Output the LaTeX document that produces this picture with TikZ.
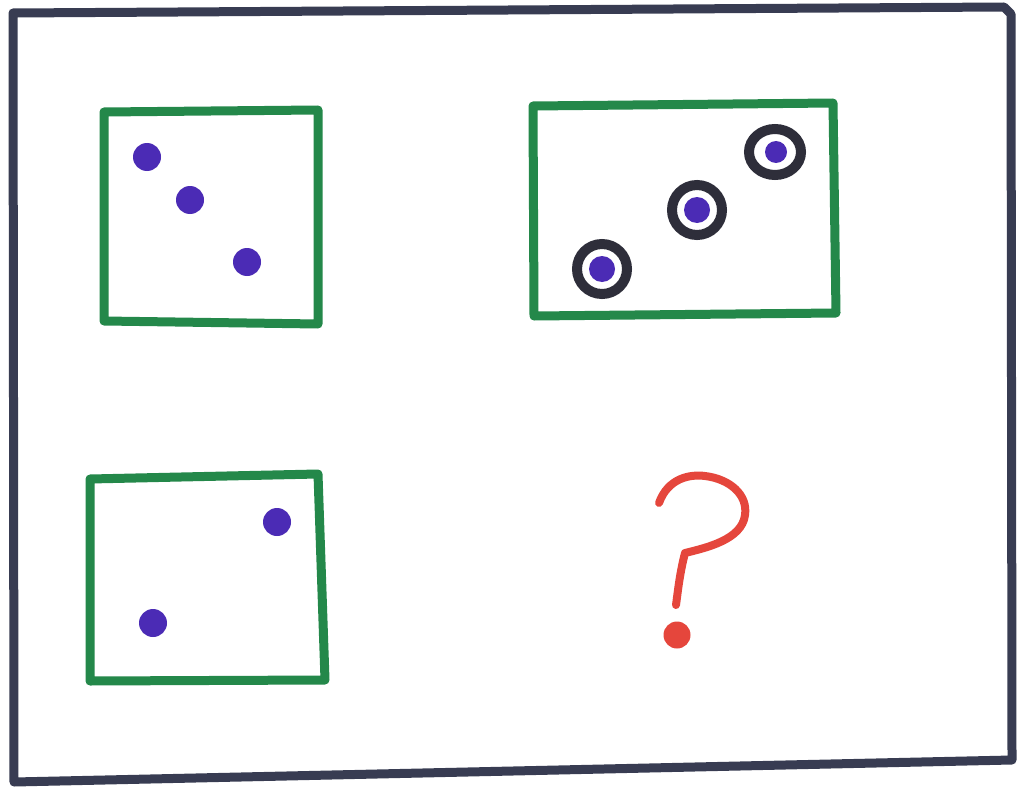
\documentclass[tikz,border=0pt]{standalone}
\usetikzlibrary{shapes.geometric}
\definecolor{frame}{HTML}{383C52}
\definecolor{boxgreen}{HTML}{24884A}
\definecolor{dotpurple}{HTML}{4B2BB5}
\definecolor{ringdark}{HTML}{2E2E3A}
\definecolor{qred}{HTML}{E5463C}
\begin{document}
\begin{tikzpicture}[x=1pt,y=-1pt,
  outer/.style={draw=frame,line width=9pt,line join=round,line cap=round},
  gbox/.style={draw=boxgreen,line width=9pt,line join=round,line cap=round},
  pdot/.style={circle,fill=dotpurple,inner sep=0pt,minimum size=28pt},
  ring/.style={circle,draw=ringdark,line width=10pt,inner sep=0pt,minimum size=50pt},
  qmark/.style={draw=qred,line width=8pt,line cap=round,line join=round}]
\useasboundingbox (0,0) rectangle (1017,789);
\fill[white] (0,0) rectangle (1017,789);
% outer frame
\draw[outer] (13,13) -- (1004,7) -- (1011,14) -- (1012,760) -- (14,782) -- cycle;
% boxes
\draw[gbox] (104,112) -- (318,110) -- (318,324) -- (104,321) -- cycle;
\draw[gbox] (533,106) -- (833,103) -- (836,313) -- (534,316) -- cycle;
\draw[gbox] (90,479) -- (318,474) -- (325,680) -- (90,681) -- cycle;
% box 1 dots
\node[pdot] (a1) at (147,157) {};
\node[pdot] (a2) at (190,200) {};
\node[pdot] (a3) at (247,262) {};
% box 2 ringed dots
\node[ring] (r1) at (602,269) {};
\node[pdot,minimum size=26pt] (b1) at (602,269) {};
\node[ring] (r2) at (697,210) {};
\node[pdot,minimum size=26pt] (b2) at (697,210) {};
\node[ring,ellipse,minimum width=52pt,minimum height=46pt] (r3) at (775,152) {};
\node[pdot,minimum size=22pt] (b3) at (776,152) {};
% box 3 dots
\node[pdot] (c1) at (277,522) {};
\node[pdot] (c2) at (153,623) {};
% question mark
\draw[qmark] (659,503) .. controls (668,478) and (690,474) .. (705,476)
  .. controls (730,479) and (748,495) .. (745,515)
  .. controls (742,540) and (705,548) .. (685,553)
  .. controls (680,572) and (678,590) .. (676,605);
\node[circle,fill=qred,inner sep=0pt,minimum size=27pt] (qd) at (677,635) {};
\end{tikzpicture}
\end{document}
